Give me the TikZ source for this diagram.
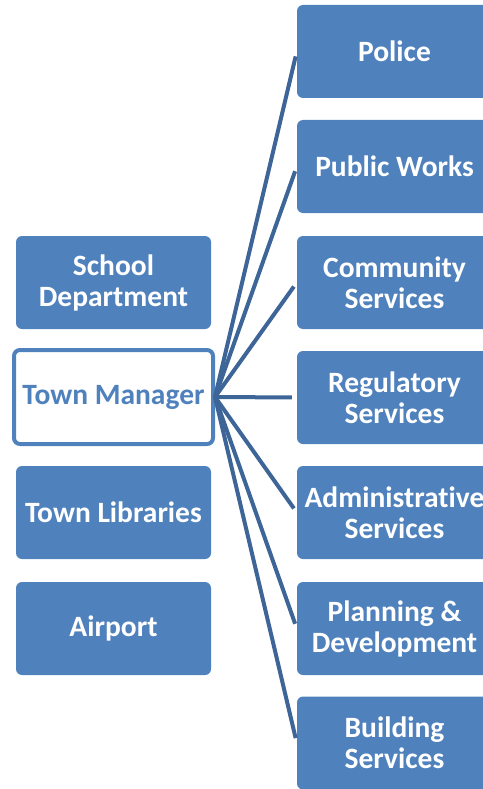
\documentclass[tikz,border=0pt]{standalone}
\usepackage{fontspec}
\setmainfont{Carlito}[Ligatures=NoCommon]
\definecolor{dept blue}{RGB}{79,129,189}
\definecolor{link blue}{RGB}{61,101,152}

\begin{document}
\begin{tikzpicture}[x=1pt, y=-1pt, font=\fontsize{29.5}{31}\selectfont\bfseries,
    dept/.style={rectangle, rounded corners=6pt, fill=dept blue, text=white,
      minimum width=195pt, minimum height=93pt, align=center, inner sep=0pt},
    head/.style={dept, fill=white, text=dept blue, draw=dept blue, line width=4pt,
      minimum width=199pt, minimum height=94pt},
    link/.style={link blue, line width=4pt, shorten >=5pt}]
  \useasboundingbox (0,0) rectangle (482,789);
  % left column
  \node[dept] (school) at (113.5,282.5) {School\\Department};
  \node[head] (manager) at (113.5,397) {Town Manager};
  \node[dept] (libraries) at (113.5,512.5) {Town Libraries};
  \node[dept] (airport) at (113.5,628.5) {Airport};
  % right column
  \node[dept] (police) at (394.5,51.5) {Police};
  \node[dept] (works) at (394.5,166.5) {Public Works};
  \node[dept] (community) at (394.5,282.5) {Community\\Services};
  \node[dept] (regulatory) at (394.5,397.5) {Regulatory\\Services};
  \node[dept] (admin) at (394.5,512.5) {Administrative\\Services};
  \node[dept] (planning) at (394.5,628.5) {Planning \&\\Development};
  \node[dept] (building) at (394.5,743) {Building\\Services};
  % links out of the manager
  \foreach \n in {police, works, community, regulatory, admin, planning, building}
    \draw[link] (manager.east) -- (\n.west);
\end{tikzpicture}
\end{document}
